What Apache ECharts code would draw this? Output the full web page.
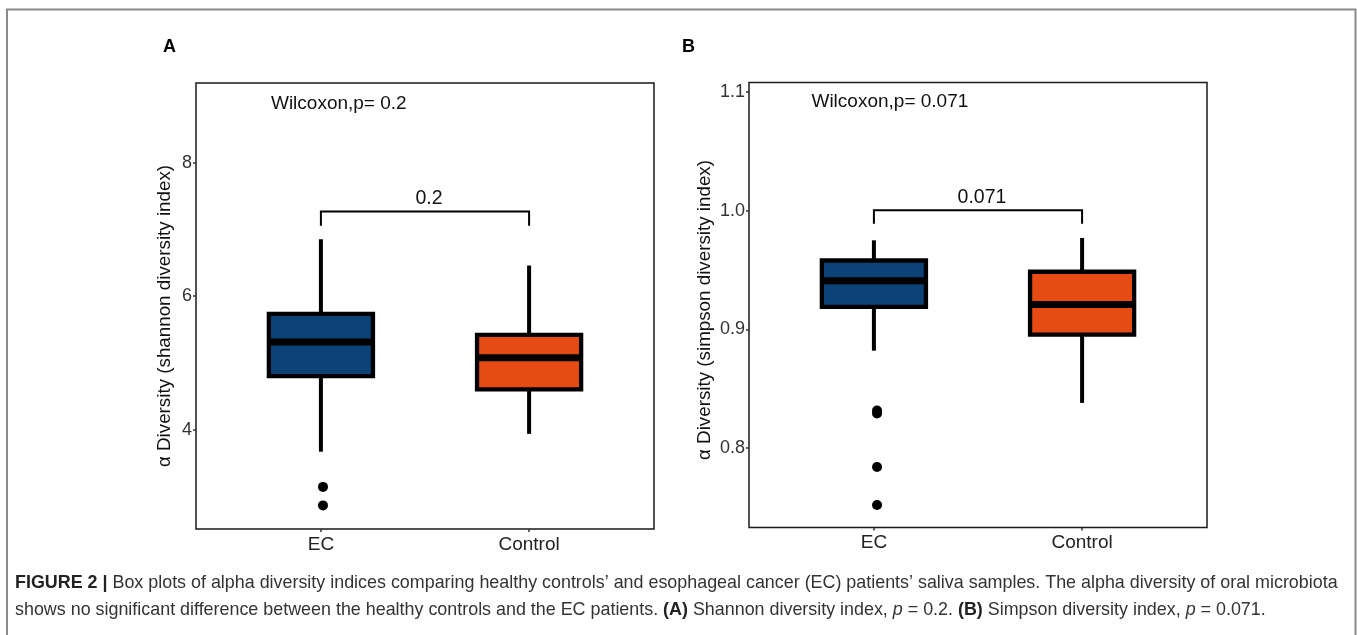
<!DOCTYPE html>
<html><head><meta charset="utf-8">
<script src="https://cdn.jsdelivr.net/npm/echarts@6/dist/echarts.min.js"></script>
<style>html,body{margin:0;padding:0;background:#fff}#c{width:1357px;height:635px}</style>
</head><body><div id="c"></div>
<script>
// ---- data ----
const categories = ['EC', 'Control'];
const categoryPos = [1, 2];
// [x, lowerWhisker, Q1, median, Q3, upperWhisker]
const shannonBox = [[1, 3.669, 4.800, 5.312, 5.733, 6.853], [2, 3.936, 4.603, 5.077, 5.419, 6.459]];
const shannonOutliers = [[1.01, 3.141], [1.01, 2.864]];
const simpsonBox = [[1, 0.882, 0.919, 0.941, 0.958, 0.975], [2, 0.838, 0.8955, 0.921, 0.9485, 0.977]];
const simpsonOutliers = [[1.015, 0.8315], [1.015, 0.8290], [1.015, 0.784], [1.015, 0.752]];
const shannonTicks = [4, 6, 8];
const simpsonTicks = [0.8, 0.9, 1.0, 1.1];
// bracket: [x1, x2, yTop, yLeg]
const shannonBracket = [[1, 2, 7.269, 7.056]];
const shannonBracketLabel = ['0.2'];
const simpsonBracket = [[1, 2, 1.0003, 0.989]];
const simpsonBracketLabel = ['0.071'];
// test annotation: [x, y]
const shannonTest = [[0.76, 8.89]];
const shannonTestLabel = ['Wilcoxon,p= 0.2'];
const simpsonTest = [[0.70, 1.0915]];
const simpsonTestLabel = ['Wilcoxon,p= 0.071'];
const boxColors = ['#0C4276', '#E54B12'];
const yTitles = ['\u03b1 Diversity (shannon diversity index)', '\u03b1 Diversity (simpson diversity index)'];

const FONT = 'Liberation Sans, Arial, Helvetica, sans-serif';

function boxItem(params, api) {
  const x = api.value(0);
  const pMin = api.coord([x, api.value(1)]);
  const pQ1 = api.coord([x, api.value(2)]);
  const pMed = api.coord([x, api.value(3)]);
  const pQ3 = api.coord([x, api.value(4)]);
  const pMax = api.coord([x, api.value(5)]);
  const half = (api.coord([x + 0.25, api.value(3)])[0] - api.coord([x - 0.25, api.value(3)])[0]) / 2;
  const col = boxColors[params.dataIndex];
  return {type: 'group', children: [
    {type: 'line', shape: {x1: pMin[0], y1: pMin[1], x2: pQ1[0], y2: pQ1[1]}, style: {stroke: '#000', lineWidth: 4}},
    {type: 'line', shape: {x1: pQ3[0], y1: pQ3[1], x2: pMax[0], y2: pMax[1]}, style: {stroke: '#000', lineWidth: 4}},
    {type: 'rect', shape: {x: pQ3[0] - half, y: pQ3[1], width: 2 * half, height: pQ1[1] - pQ3[1]}, style: {fill: col, stroke: '#000', lineWidth: 4.3}},
    {type: 'line', shape: {x1: pMed[0] - half, y1: pMed[1], x2: pMed[0] + half, y2: pMed[1]}, style: {stroke: '#000', lineWidth: 7}}
  ]};
}
function bracketItemFactory(labels) {
  return function (params, api) {
    const a = api.coord([api.value(0), api.value(3)]);
    const b = api.coord([api.value(0), api.value(2)]);
    const c = api.coord([api.value(1), api.value(2)]);
    const d = api.coord([api.value(1), api.value(3)]);
    return {type: 'group', children: [
      {type: 'polyline', shape: {points: [a, b, c, d]}, style: {stroke: '#000', lineWidth: 2, fill: null}},
      {type: 'text', style: {text: labels[params.dataIndex], x: (b[0] + c[0]) / 2 + 4, y: b[1] - 3, align: 'center', verticalAlign: 'bottom', font: '19.5px ' + FONT, fill: '#111'}}
    ]};
  };
}
function textItemFactory(labels) {
  return function (params, api) {
    const p = api.coord([api.value(0), api.value(1)]);
    return {type: 'text', style: {text: labels[params.dataIndex], x: p[0], y: p[1], align: 'left', verticalAlign: 'middle', font: '19px ' + FONT, fill: '#111'}};
  };
}

const grids = [
  {left: 196, top: 83, width: 458, height: 446},
  {left: 749, top: 82.5, width: 458, height: 445}
];
function xAxisCfg(i) {
  return {gridIndex: i, type: 'value', min: 0.4, max: 2.6, splitLine: {show: false}, axisLine: {show: false},
    axisTick: {show: true, length: 3, customValues: categoryPos, lineStyle: {color: '#333', width: 1.5}},
    axisLabel: {customValues: categoryPos, formatter: v => categories[Math.round(v) - 1], fontSize: 19, color: '#222', margin: 6, fontFamily: FONT}};
}
function yAxisCfg(i, ticks, min, max, fmt, gap, shift) {
  return {gridIndex: i, type: 'value', min: min, max: max, splitLine: {show: false}, axisLine: {show: false},
    axisTick: {show: true, length: 3, customValues: ticks, lineStyle: {color: '#333', width: 1.5}},
    axisLabel: {customValues: ticks, formatter: fmt, fontSize: 18, color: '#333', margin: 4, fontFamily: FONT},
    name: yTitles[i], nameLocation: 'middle', nameGap: gap, nameRotate: 90,
    nameTextStyle: {fontSize: 18.8, color: '#111', fontFamily: FONT, padding: [0, shift, 0, 0]}};
}

const option = {
  animation: false,
  backgroundColor: '#fff',
  grid: grids.map(g => Object.assign({show: true, borderColor: '#1a1a1a', borderWidth: 1.5, backgroundColor: 'transparent'}, g)),
  xAxis: [xAxisCfg(0), xAxisCfg(1)],
  yAxis: [
    yAxisCfg(0, shannonTicks, 2.51, 9.195, v => String(v), 22, 20),
    yAxisCfg(1, simpsonTicks, 0.733, 1.108, v => v.toFixed(1), 35, 10)
  ],
  series: [
    {type: 'custom', xAxisIndex: 0, yAxisIndex: 0, data: shannonBox, renderItem: boxItem, clip: false, z: 2},
    {type: 'scatter', xAxisIndex: 0, yAxisIndex: 0, data: shannonOutliers, symbolSize: 10, itemStyle: {color: '#000', opacity: 1}, z: 3},
    {type: 'custom', xAxisIndex: 0, yAxisIndex: 0, data: shannonBracket, renderItem: bracketItemFactory(shannonBracketLabel), z: 3},
    {type: 'custom', xAxisIndex: 0, yAxisIndex: 0, data: shannonTest, renderItem: textItemFactory(shannonTestLabel), z: 3},
    {type: 'custom', xAxisIndex: 1, yAxisIndex: 1, data: simpsonBox, renderItem: boxItem, clip: false, z: 2},
    {type: 'scatter', xAxisIndex: 1, yAxisIndex: 1, data: simpsonOutliers, symbolSize: 10, itemStyle: {color: '#000', opacity: 1}, z: 3},
    {type: 'custom', xAxisIndex: 1, yAxisIndex: 1, data: simpsonBracket, renderItem: bracketItemFactory(simpsonBracketLabel), z: 3},
    {type: 'custom', xAxisIndex: 1, yAxisIndex: 1, data: simpsonTest, renderItem: textItemFactory(simpsonTestLabel), z: 3}
  ],
  graphic: [
    {type: 'rect', shape: {x: 7, y: 9.5, width: 1348.5, height: 640}, style: {fill: null, stroke: '#8a8a8a', lineWidth: 2}, silent: true},
    {type: 'text', x: 163, y: 47, style: {text: 'A', font: 'bold 18px ' + FONT, fill: '#000', verticalAlign: 'middle'}},
    {type: 'text', x: 682, y: 47, style: {text: 'B', font: 'bold 18px ' + FONT, fill: '#000', verticalAlign: 'middle'}},
    {type: 'text', x: 15, y: 583, style: {
      text: '{b|FIGURE 2 |} Box plots of alpha diversity indices comparing healthy controls\u2019 and esophageal cancer (EC) patients\u2019 saliva samples. The alpha diversity of oral microbiota',
      font: '17.9px ' + FONT, fill: '#333', verticalAlign: 'middle',
      rich: {b: {fontWeight: 'bold', fontSize: 17.9, fontFamily: FONT, fill: '#222'}}}},
    {type: 'text', x: 15, y: 610, style: {
      text: 'shows no significant difference between the healthy controls and the EC patients. {b|(A)} Shannon diversity index, {i|p} = 0.2. {b|(B)} Simpson diversity index, {i|p} = 0.071.',
      font: '17.9px ' + FONT, fill: '#333', verticalAlign: 'middle',
      rich: {b: {fontWeight: 'bold', fontSize: 17.9, fontFamily: FONT, fill: '#222'}, i: {fontStyle: 'italic', fontSize: 17.9, fontFamily: FONT, fill: '#333'}}}}
  ]
};
const chart = echarts.init(document.getElementById('c'), null, {renderer: 'canvas'});
chart.setOption(option);
</script>
</body></html>
